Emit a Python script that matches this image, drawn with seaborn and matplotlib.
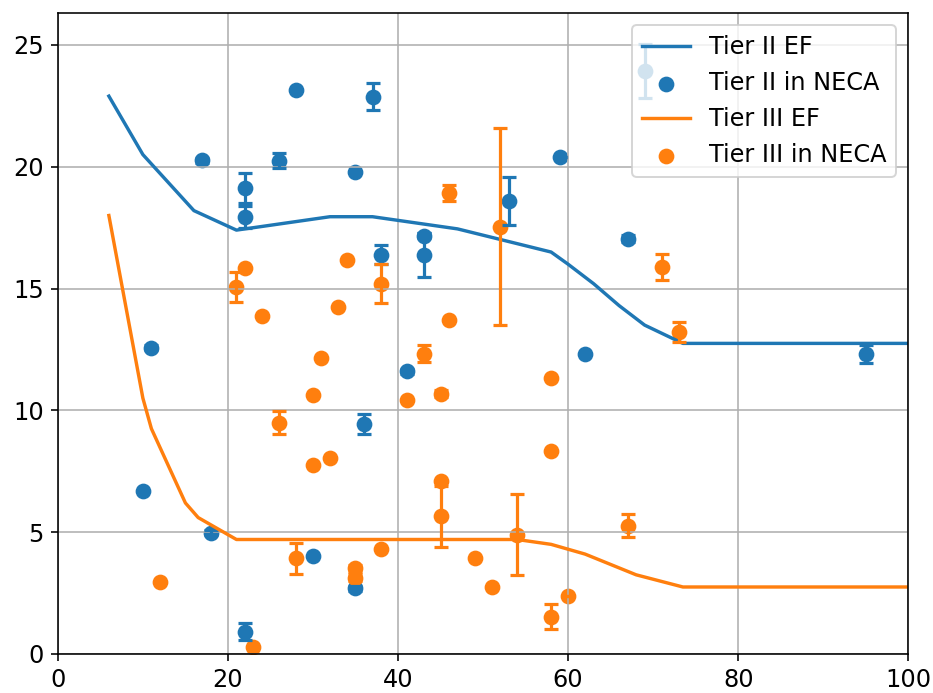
import numpy as np
import pandas as pd
import seaborn as sns
import matplotlib
matplotlib.use("Agg")
import matplotlib.pyplot as plt

# Emission factor curves
ef2_x = [6, 10, 16, 21, 32, 37, 47, 58, 60, 63, 66, 69, 73.5, 100]
ef2_y = [22.9, 20.5, 18.2, 17.4, 17.95, 17.95, 17.45, 16.5, 16.0, 15.2, 14.3, 13.5, 12.75, 12.75]
ef3_x = [6, 10, 11, 15, 16.5, 21, 54, 58, 62, 68, 73.5, 100]
ef3_y = [18.0, 10.5, 9.25, 6.2, 5.6, 4.7, 4.7, 4.5, 4.1, 3.25, 2.75, 2.75]

# Measurements in NECA (x, value, error)
t2_x = [10, 11, 17, 18, 22, 22, 22, 26, 28, 30, 35, 35, 36, 37, 38, 41, 43, 43, 53, 59, 62, 67, 69, 95]
t2_y = [6.69, 12.57, 20.27, 4.97, 19.13, 17.92, 0.92, 20.25, 23.14, 4.03, 19.8, 2.69,
        9.45, 22.87, 16.39, 11.61, 17.17, 16.38, 18.6, 20.41, 12.32, 17.05, 23.93, 12.32]
t2_err = [0, 0.1, 0.1, 0.1, 0.6, 0.45, 0.35, 0.3, 0, 0, 0, 0.1,
          0.42, 0.55, 0.4, 0.1, 0.1, 0.9, 1.0, 0, 0, 0.15, 1.1, 0.38]

t3_x = [12, 21, 22, 23, 24, 26, 28, 30, 30, 31, 32, 33, 34, 35, 35, 38, 38, 41, 43, 45, 45, 45,
        46, 46, 49, 51, 52, 54, 58, 58, 58, 60, 67, 71, 73]
t3_y = [2.94, 15.05, 15.83, 0.27, 13.89, 9.49, 3.92, 10.64, 7.77, 12.15, 8.05, 14.26, 16.18,
        3.51, 3.13, 15.19, 4.33, 10.41, 12.32, 10.68, 7.09, 5.66, 18.92, 13.69, 3.92, 2.73,
        17.54, 4.9, 11.34, 8.32, 1.53, 2.38, 5.26, 15.87, 13.21]
t3_err = [0, 0.62, 0, 0, 0, 0.47, 0.62, 0, 0, 0, 0, 0, 0, 0.15, 0.15, 0.8, 0, 0, 0.35, 0.15, 0, 1.25,
          0.33, 0, 0, 0, 4.05, 1.65, 0, 0, 0.52, 0, 0.47, 0.53, 0.4]

c2 = "#1f77b4"
c3 = "#ff7f0e"

fig, ax = plt.subplots(figsize=(933/144, 693/144), dpi=144)

sns.lineplot(x=ef2_x, y=ef2_y, color=c2, lw=1.7, sort=False, label="Tier II EF", ax=ax)
sns.scatterplot(x=t2_x, y=t2_y, color=c2, s=62, linewidth=0, label="Tier II in NECA", ax=ax)
ax.errorbar(t2_x, t2_y, yerr=t2_err, fmt="none", ecolor=c2, elinewidth=1.6, capsize=3.5, capthick=1.6)

sns.lineplot(x=ef3_x, y=ef3_y, color=c3, lw=1.7, sort=False, label="Tier III EF", ax=ax)
sns.scatterplot(x=t3_x, y=t3_y, color=c3, s=62, linewidth=0, label="Tier III in NECA", ax=ax)
ax.errorbar(t3_x, t3_y, yerr=t3_err, fmt="none", ecolor=c3, elinewidth=1.6, capsize=3.5, capthick=1.6)

ax.set_xlim(0, 100)
ax.set_ylim(0, 26.3)
ax.grid(True)
ax.tick_params(labelsize=12)
ax.legend(loc="upper right", fontsize=12)

plt.subplots_adjust(left=0.062, right=0.9735, bottom=0.0563, top=0.9808)
plt.savefig("out.png", dpi=144)
